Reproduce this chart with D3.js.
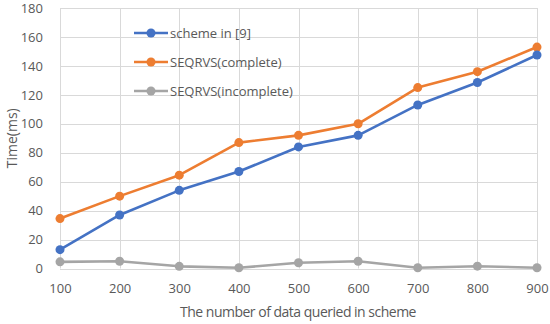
<!DOCTYPE html>
<html>
<head>
<meta charset="utf-8">
<script src="https://cdn.jsdelivr.net/npm/d3@7"></script>
<style>
  body { margin: 0; background: #fff; }
  text { font-family: "Open Sans", "Noto Sans", sans-serif; fill: #595959; }
</style>
</head>
<body>
<div id="chart"></div>
<script>
var categories = [100, 200, 300, 400, 500, 600, 700, 800, 900];
var schemeIn9 = [13, 37, 54, 67, 84, 92, 113, 128.5, 147.5];
var seqrvsComplete = [34.5, 50, 64.5, 87, 92, 100, 125, 136, 153];
var seqrvsIncomplete = [4.6, 5, 1.5, 0.5, 4, 5, 0.5, 1.6, 0.5];
var yTicks = [0, 20, 40, 60, 80, 100, 120, 140, 160, 180];

var seriesNames = ["scheme in [9]", "SEQRVS(complete)", "SEQRVS(incomplete)"];
var seriesColors = ["#4472C4", "#ED7D31", "#A5A5A5"];
var seriesValues = [schemeIn9, seqrvsComplete, seqrvsIncomplete];

var width = 550,
  height = 324;
var margin = { left: 60, right: 13, top: 8, bottom: 55 };

var svg = d3
  .select("#chart")
  .append("svg")
  .attr("width", width)
  .attr("height", height);

var x = d3
  .scalePoint()
  .domain(categories)
  .range([margin.left, width - margin.right]);
var y = d3
  .scaleLinear()
  .domain([0, 180])
  .range([height - margin.bottom - 0.5, margin.top]);

// gridlines
svg
  .append("g")
  .selectAll("line")
  .data(yTicks)
  .enter()
  .append("line")
  .attr("x1", margin.left)
  .attr("x2", width - margin.right)
  .attr("y1", function (d) { return Math.round(y(d)) + 0.5; })
  .attr("y2", function (d) { return Math.round(y(d)) + 0.5; })
  .attr("stroke", "#d9d9d9")
  .attr("stroke-width", 1);

svg
  .append("g")
  .selectAll("line")
  .data(categories)
  .enter()
  .append("line")
  .attr("x1", function (d) { return Math.round(x(d)) + 0.5; })
  .attr("x2", function (d) { return Math.round(x(d)) + 0.5; })
  .attr("y1", y(0))
  .attr("y2", y(180))
  .attr("stroke", "#d9d9d9")
  .attr("stroke-width", 1);

// axes labels via d3 axes, no domain or ticks
var yAxis = svg
  .append("g")
  .attr("transform", "translate(" + (margin.left - 14) + ",0)")
  .call(d3.axisLeft(y).tickValues(yTicks).tickSize(0));
yAxis.select(".domain").remove();
yAxis.selectAll("text").attr("font-size", "13px").attr("fill", "#595959");

var xAxis = svg
  .append("g")
  .attr("transform", "translate(0," + (y(0) + 12) + ")")
  .call(d3.axisBottom(x).tickSize(0));
xAxis.select(".domain").remove();
xAxis.selectAll("text").attr("font-size", "13px").attr("fill", "#595959");

svg.selectAll(".tick text").attr("font-family", "'Open Sans', 'Noto Sans', sans-serif");

// axis titles
svg
  .append("text")
  .attr("x", 298)
  .attr("y", 317)
  .attr("text-anchor", "middle")
  .attr("font-size", "14px")
  .attr("letter-spacing", "-0.5px")
  .text("The number of data queried in scheme");

svg
  .append("text")
  .attr("transform", "translate(17," + (margin.top + y(0)) / 2 + ") rotate(-90)")
  .attr("text-anchor", "middle")
  .attr("font-size", "14px")
  .text("Time(ms)");

// series
var line = d3
  .line()
  .x(function (d, i) { return x(categories[i]); })
  .y(function (d) { return y(d); });

// draw gray first, then orange, then blue on top
[2, 1, 0].forEach(function (s) {
  var g = svg.append("g");
  g.append("path")
    .datum(seriesValues[s])
    .attr("d", line)
    .attr("fill", "none")
    .attr("stroke", seriesColors[s])
    .attr("stroke-width", 2.6)
    .attr("stroke-linejoin", "round");
  g.selectAll("circle")
    .data(seriesValues[s])
    .enter()
    .append("circle")
    .attr("cx", function (d, i) { return x(categories[i]); })
    .attr("cy", function (d) { return y(d); })
    .attr("r", 4.5)
    .attr("fill", seriesColors[s]);
});

// legend
var legend = svg
  .append("g")
  .selectAll("g")
  .data(seriesNames)
  .enter()
  .append("g")
  .attr("transform", function (d, i) {
    return "translate(134," + (33 + i * 29) + ")";
  });
legend
  .append("line")
  .attr("x1", 0)
  .attr("x2", 34)
  .attr("stroke", function (d, i) { return seriesColors[i]; })
  .attr("stroke-width", 2.6);
legend
  .append("circle")
  .attr("cx", 17)
  .attr("r", 4.5)
  .attr("fill", function (d, i) { return seriesColors[i]; });
legend
  .append("text")
  .attr("x", 36)
  .attr("dy", "0.35em")
  .attr("font-size", "13px")
  .text(function (d) { return d; });
</script>
</body>
</html>
